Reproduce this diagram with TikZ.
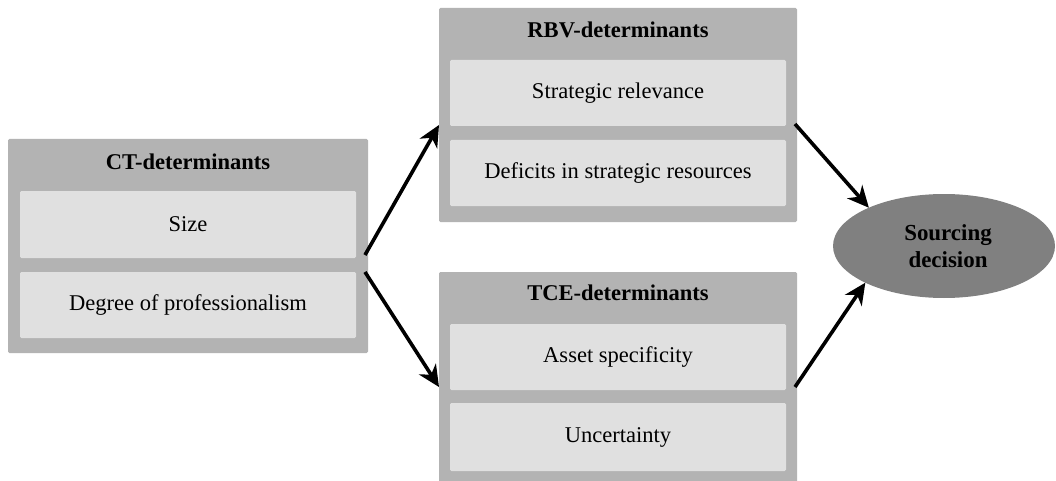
\documentclass[tikz,border=0pt]{standalone}
\usepackage{fontspec}
\setmainfont{Liberation Serif}
\usetikzlibrary{arrows.meta,shapes.geometric,calc}

\definecolor{groupgray}{RGB}{179,179,179}
\definecolor{itemgray}{RGB}{224,224,224}
\definecolor{goalgray}{RGB}{128,128,128}

\tikzset{
  group/.style={fill=groupgray, draw=none, rounded corners=1pt, inner sep=0pt, outer sep=0pt,
                minimum width=0.75pt*#1, minimum height=0.75pt*214},
  group/.default=358,
  item/.style={fill=itemgray, draw=none, rounded corners=1pt, inner sep=0pt, outer sep=0pt,
               minimum width=0.75pt*336, minimum height=0.75pt*66,
               font=\fontsize{16.9}{19}\selectfont},
  title/.style={inner sep=0pt, font=\fontsize{16.9}{19}\selectfont\bfseries},
  goal/.style={ellipse, fill=goalgray, draw=none, inner sep=0pt, outer sep=0pt,
               minimum width=0.75pt*222, minimum height=0.75pt*104, align=center,
               font=\fontsize{17.2}{20}\selectfont\bfseries},
  arr/.style={line width=2.7pt, -{Stealth[length=16pt, width=15pt, inset=5pt]}}
}

\begin{document}
\begin{tikzpicture}[x=0.75pt, y=-0.75pt]
\useasboundingbox (0,0) rectangle (1056,481);
\clip (0,0) rectangle (1056,481);

% CT group
\node[group=360] (ct) at (188,246) {};
\node[title] (cttitle) at (188,162) {CT-determinants};
\node[item, minimum height=0.75pt*67] (size) at (188,224.5) {Size};
\node[item] (prof) at (188,305) {Degree of professionalism};

% RBV group
\node[group] (rbv) at (618,115) {};
\node[title] (rbvtitle) at (618,30) {RBV-determinants};
\node[item] (strat) at (618,93) {Strategic relevance};
\node[item] (defic) at (618,173) {Deficits in strategic resources};

% TCE group
\node[group] (tce) at (618,379) {};
\node[title] (tcetitle) at (618,293) {TCE-determinants};
\node[item] (asset) at (618,357) {Asset specificity};
\node[item, minimum height=0.75pt*68] (uncert) at (618,437) {Uncertainty};

% Outcome
\node[goal] (dec) at (944,246) {\hspace*{6pt}Sourcing\\\hspace*{6pt}decision};

% Connectors
\draw[arr] ([shift={(-3,9)}]ct.east) -- ([shift={(0,10)}]rbv.west);
\draw[arr] ([shift={(-3,26)}]ct.east) -- ([shift={(0,8)}]tce.west);
\draw[arr] ([shift={(-2,9)}]rbv.east) -- (dec.153.7);
\draw[arr] ([shift={(-2,8)}]tce.east) -- (dec.205.7);
\end{tikzpicture}
\end{document}
